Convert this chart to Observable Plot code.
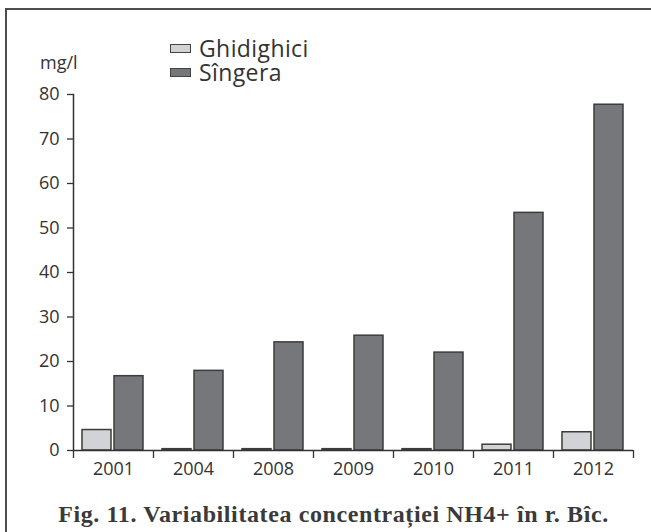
<!DOCTYPE html>
<html><head><meta charset="utf-8">
<script src="https://cdn.jsdelivr.net/npm/d3@7"></script>
<script src="https://cdn.jsdelivr.net/npm/@observablehq/plot@0.6"></script>
<style>
body{margin:0;background:#fff;}
#wrap{position:relative;width:651px;height:532px;overflow:hidden;background:#fff;font-family:"Open Sans",sans-serif;color:#333;}
#frame{position:absolute;left:5px;top:8px;width:700px;height:600px;border:2px solid #4d4d4d;box-sizing:border-box;}
#chart{position:absolute;left:0;top:0;}
#unit{position:absolute;left:40px;top:53px;font-size:18px;line-height:18px;}
.item{position:absolute;left:170px;display:flex;align-items:center;height:22px;line-height:22px;font-size:23px;letter-spacing:0.4px;white-space:nowrap;}
.sw{width:19px;height:7px;border:1.5px solid #444;margin-right:8px;}
#caption{position:absolute;left:8px;width:651px;top:502px;text-align:center;font-family:"Liberation Serif",serif;font-weight:bold;font-size:24px;line-height:24px;letter-spacing:0.6px;color:#3a3a3a;white-space:nowrap;}
</style></head>
<body>
<div id="wrap">
  <div id="frame"></div>
  <div id="chart"></div>
  <div id="unit"></div>
  <div id="legend"></div>
  <div id="caption"></div>
</div>
<script>
const years = ["2001","2004","2008","2009","2010","2011","2012"];
const seriesNames = ["Ghidighici","Sîngera"];
const ghidighici = [4.6, 0.3, 0.3, 0.3, 0.3, 1.3, 4.1];
const singera = [16.7, 17.9, 24.3, 25.8, 22.0, 53.4, 77.7];
const yTicks = [0,10,20,30,40,50,60,70,80];
const colors = ["#d2d3d6","#76777b"];
const unitLabel = "mg/l";
const captionText = "Fig. 11. Variabilitatea concentrației NH4+ în r. Bîc.";

const data = years.flatMap((y,i)=>[
  {year:y, series:seriesNames[0], value:ghidighici[i]},
  {year:y, series:seriesNames[1], value:singera[i]}
]);

const chart = Plot.plot({
  width:651, height:480,
  marginLeft:72, marginRight:18, marginTop:94, marginBottom:30,
  style:{fontFamily:"'Open Sans', sans-serif", fontSize:"18px", color:"#333", background:"transparent", overflow:"visible"},
  fx:{domain:years, padding:0, label:null},
  x:{domain:seriesNames, paddingInner:0.09, paddingOuter:0.27, axis:null},
  y:{domain:[0,80], label:null},
  color:{domain:seriesNames, range:colors},
  marks:[
    Plot.barY(data,{fx:"year", x:"series", y:"value", fill:"series", stroke:"#3c3c3c", strokeWidth:1.5}),
    Plot.ruleY([0],{stroke:"#333", strokeWidth:1.5}),
    Plot.frame({anchor:"left", facet:"super", stroke:"#333", strokeWidth:1.5}),
    Plot.axisY({ticks:yTicks, tickSize:6, tickPadding:8, label:null, strokeWidth:1.3}),
    Plot.axisFx({anchor:"bottom", tickSize:0, tickPadding:12, label:null}),
    Plot.axisFx({anchor:"bottom", tickSize:8, text:null, dx:-40, label:null, strokeWidth:1.3}),
    Plot.axisFx({anchor:"bottom", ticks:["2012"], tickSize:8, text:null, dx:40, label:null, strokeWidth:1.3})
  ]
});
document.getElementById("chart").appendChild(chart);
document.getElementById("unit").textContent = unitLabel;
document.getElementById("caption").textContent = captionText;
const legend = document.getElementById("legend");
seriesNames.forEach((s,i)=>{
  const it = document.createElement("div");
  it.className = "item";
  it.style.top = (37 + i*24) + "px";
  const sw = document.createElement("span");
  sw.className = "sw";
  sw.style.background = colors[i];
  it.appendChild(sw);
  it.appendChild(document.createTextNode(s));
  legend.appendChild(it);
});
</script>
</body></html>
